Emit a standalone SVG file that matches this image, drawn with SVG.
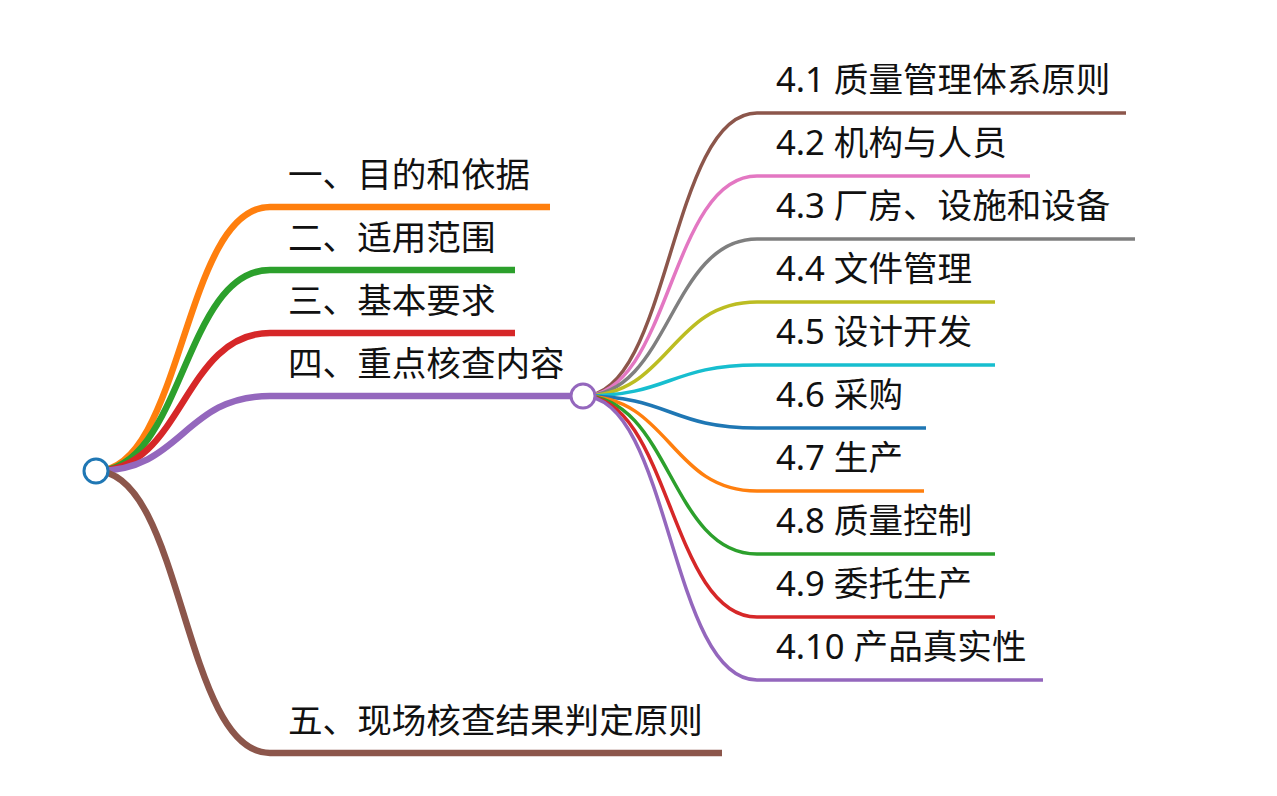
<svg xmlns="http://www.w3.org/2000/svg" width="1277" height="796" viewBox="0 0 1277 796">
  <style>
    .lbl { font-family: "Noto Sans", "Noto Sans CJK SC", sans-serif; font-size: 34.6px; fill: #111; }
    .l1 { fill: none; stroke-width: 6.5; stroke-linecap: butt; }
    .l2 { fill: none; stroke-width: 3.5; stroke-linecap: butt; }
    .dot { fill: #fff; stroke-width: 3; }
  </style>
  <rect width="1277" height="796" fill="#fff"/>

  <g id="connectors">
    <!-- root to first level -->
    <path class="l1" stroke="#ff7f0e" d="M96,471 C183,471 183,207 270,207 L550,207"/>
    <path class="l1" stroke="#2ca02c" d="M96,471 C183,471 183,270 270,270 L515,270"/>
    <path class="l1" stroke="#d62728" d="M96,471 C183,471 183,333 270,333 L515,333"/>
    <path class="l1" stroke="#9467bd" d="M96,471 C183,471 183,396 270,396 L572,396"/>
    <path class="l1" stroke="#8c564b" d="M96,471 C183,471 183,753 270,753 L722,753"/>
    <!-- section four to its children -->
    <path class="l2" stroke="#8c564b" d="M583,396 C670,396 670,113 757,113 L1126,113"/>
    <path class="l2" stroke="#e377c2" d="M583,396 C670,396 670,176 757,176 L1030,176"/>
    <path class="l2" stroke="#7f7f7f" d="M583,396 C670,396 670,239 757,239 L1135,239"/>
    <path class="l2" stroke="#bcbd22" d="M583,396 C670,396 670,302 757,302 L995,302"/>
    <path class="l2" stroke="#17becf" d="M583,396 C670,396 670,365 757,365 L995,365"/>
    <path class="l2" stroke="#1f77b4" d="M583,396 C670,396 670,428 757,428 L926,428"/>
    <path class="l2" stroke="#ff7f0e" d="M583,396 C670,396 670,491 757,491 L924,491"/>
    <path class="l2" stroke="#2ca02c" d="M583,396 C670,396 670,554 757,554 L995,554"/>
    <path class="l2" stroke="#d62728" d="M583,396 C670,396 670,617 757,617 L995,617"/>
    <path class="l2" stroke="#9467bd" d="M583,396 C670,396 670,680 757,680 L1043,680"/>
  </g>

  <g id="root"><circle class="dot" cx="96" cy="471" r="12" stroke="#1f77b4"/></g>

  <g id="n1"><text class="lbl" x="288" y="187">一、目的和依据</text></g>
  <g id="n2"><text class="lbl" x="288" y="250">二、适用范围</text></g>
  <g id="n3"><text class="lbl" x="288" y="313">三、基本要求</text></g>
  <g id="n4">
    <text class="lbl" x="288" y="376">四、重点核查内容</text>
    <circle class="dot" cx="583" cy="396" r="12" stroke="#9467bd"/>
  </g>
  <g id="n5"><text class="lbl" x="288" y="733">五、现场核查结果判定原则</text></g>

  <g id="n4-1"><text class="lbl" x="776" y="92">4.1 质量管理体系原则</text></g>
  <g id="n4-2"><text class="lbl" x="776" y="155">4.2 机构与人员</text></g>
  <g id="n4-3"><text class="lbl" x="776" y="218">4.3 厂房、设施和设备</text></g>
  <g id="n4-4"><text class="lbl" x="776" y="281">4.4 文件管理</text></g>
  <g id="n4-5"><text class="lbl" x="776" y="344">4.5 设计开发</text></g>
  <g id="n4-6"><text class="lbl" x="776" y="407">4.6 采购</text></g>
  <g id="n4-7"><text class="lbl" x="776" y="470">4.7 生产</text></g>
  <g id="n4-8"><text class="lbl" x="776" y="533">4.8 质量控制</text></g>
  <g id="n4-9"><text class="lbl" x="776" y="596">4.9 委托生产</text></g>
  <g id="n4-10"><text class="lbl" x="776" y="659">4.10 产品真实性</text></g>
</svg>
